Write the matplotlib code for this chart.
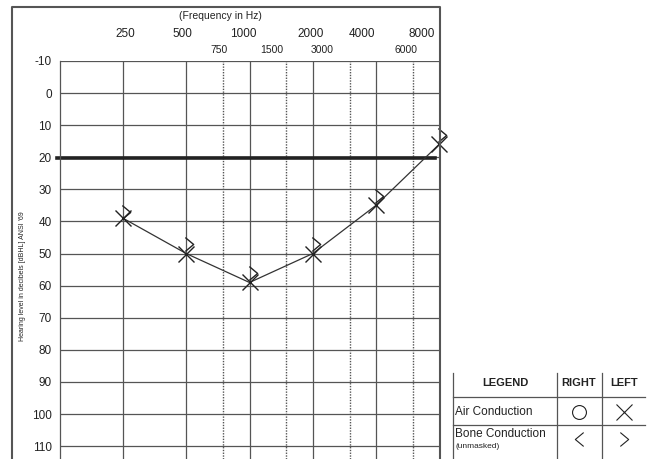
import matplotlib
matplotlib.use("Agg")
import matplotlib.pyplot as plt
import matplotlib.transforms as mtransforms
from matplotlib.lines import Line2D
from matplotlib.path import Path

plt.rcParams["font.family"] = ["Liberation Sans", "DejaVu Sans"]

# audiogram data (left ear)
freqs = [250, 500, 1000, 2000, 4000, 8000]
left_air = [39, 50, 59, 50, 35, 16]
left_bone = [37, 47, 56, 47, 32, 13]
normal_limit = 20.3

main_freqs = [250, 500, 1000, 2000, 4000, 8000]
mid_freqs = [750, 1500, 3000, 6000]
db_ticks = list(range(-10, 111, 10))

W, H = 651, 459
fig = plt.figure(figsize=(W / 100, H / 100), dpi=100)


def fx(px):
    return px / W


def fy(py):
    return 1 - py / H


ax = fig.add_axes([fx(60), 0, (439 - 60) / W, (H - 61) / H])
ax.set_xscale("log", base=2)
ax.set_xlim(125, 8000)
ax.set_ylim(-10 + (H - 61) / 3.21, -10)

grid_c = "#555555"
for d in db_ticks:
    ax.axhline(d, color=grid_c, lw=0.9, zorder=1)
for f in main_freqs[:-1]:
    ax.axvline(f, color=grid_c, lw=0.9, zorder=1)
for f in mid_freqs:
    ax.axvline(f, color=grid_c, lw=1.0, ls=(0, (1, 1)), zorder=1)

for s in ["top", "bottom", "right"]:
    ax.spines[s].set_visible(False)
ax.spines["left"].set_color(grid_c)
ax.spines["left"].set_linewidth(0.9)

ax.set_yticks(db_ticks)
ax.set_yticklabels([str(d) for d in db_ticks], fontsize=8.5, color="#222222")
ax.tick_params(axis="y", length=0, pad=6)
ax.set_xticks([])
ax.minorticks_off()
ax.set_xticks([], minor=True)

# frequency labels above the grid
main_off = [2, -4, -6, -2, -14, -17]
mid_off = [-4, -15, -27, -7]
for f, o in zip(main_freqs, main_off):
    ax.annotate(str(f), (f, -10), xytext=(o, 27), textcoords="offset pixels",
                ha="center", va="center", fontsize=8.5, color="#222222",
                annotation_clip=False)
for f, o in zip(mid_freqs, mid_off):
    ax.annotate(str(f), (f, -10), xytext=(o, 11), textcoords="offset pixels",
                ha="center", va="center", fontsize=7.5, color="#222222",
                annotation_clip=False)
fig.text(fx(220), fy(16), "(Frequency in Hz)", ha="center", va="center",
         fontsize=7.5, color="#222222")
fig.text(fx(23), fy(276), "Hearing level in decibels [dBHL] ANSI '69",
         rotation=90, ha="center", va="center", fontsize=5, color="#222222")

# normal hearing limit
ax.axhline(normal_limit, xmin=-3 / 379, xmax=(435 - 60) / 379, color="#222222",
           lw=2.6, clip_on=False, zorder=2)

# thresholds
ax.plot(freqs, left_air, color="#333333", lw=0.9, zorder=3)
ax.plot(freqs, left_air, ls="none", marker="x", ms=12, mew=1.0,
        color="#222222", zorder=4, clip_on=False)
chev_r = Path([(-0.6, 1), (0.6, 0), (-0.6, -1)],
              [Path.MOVETO, Path.LINETO, Path.LINETO])
chev_l = Path([(0.6, 1), (-0.6, 0), (0.6, -1)],
              [Path.MOVETO, Path.LINETO, Path.LINETO])
shift = mtransforms.offset_copy(ax.transData, fig=fig, x=3, y=0, units="dots")
ax.plot(freqs, left_bone, ls="none", marker=chev_r, ms=10, mew=1.0, mfc="none",
        color="#222222", transform=shift, zorder=4, clip_on=False)

# outer frame
frame_c = "#555555"
fig.add_artist(Line2D([fx(12), fx(12), fx(439.5), fx(439.5)],
                      [fy(460), fy(7), fy(7), fy(460)],
                      transform=fig.transFigure, color=frame_c, lw=1.5))

# legend table
lc = "#555555"
for x in [453, 557, 602]:
    fig.add_artist(Line2D([fx(x), fx(x)], [fy(373), fy(460)],
                          transform=fig.transFigure, color=lc, lw=0.9))
for y in [397, 425]:
    fig.add_artist(Line2D([fx(453), fx(645)], [fy(y), fy(y)],
                          transform=fig.transFigure, color=lc, lw=0.9))
tc = "#222222"
fig.text(fx(505), fy(383), "LEGEND", ha="center", va="center", fontsize=8,
         fontweight="bold", color=tc)
fig.text(fx(579), fy(383), "RIGHT", ha="center", va="center", fontsize=8,
         fontweight="bold", color=tc)
fig.text(fx(624), fy(383), "LEFT", ha="center", va="center", fontsize=8,
         fontweight="bold", color=tc)
fig.text(fx(455), fy(412), "Air Conduction", ha="left", va="center",
         fontsize=8.5, color=tc)
fig.text(fx(455), fy(434), "Bone Conduction", ha="left", va="center",
         fontsize=8.5, color=tc)
fig.text(fx(455), fy(447), "(unmasked)", ha="left", va="center",
         fontsize=6, color=tc)
fig.add_artist(Line2D([fx(579)], [fy(412)], transform=fig.transFigure,
                      ls="none", marker="o", ms=10, mfc="none", mec=tc, mew=0.8))
fig.add_artist(Line2D([fx(624)], [fy(412)], transform=fig.transFigure,
                      ls="none", marker="x", ms=11, mec=tc, mew=0.8))
fig.add_artist(Line2D([fx(579)], [fy(439)], transform=fig.transFigure,
                      ls="none", marker=chev_l, ms=10, mfc="none", mec=tc, mew=0.8))
fig.add_artist(Line2D([fx(624)], [fy(439)], transform=fig.transFigure,
                      ls="none", marker=chev_r, ms=10, mfc="none", mec=tc, mew=0.8))

fig.savefig("out.png", dpi=100)
